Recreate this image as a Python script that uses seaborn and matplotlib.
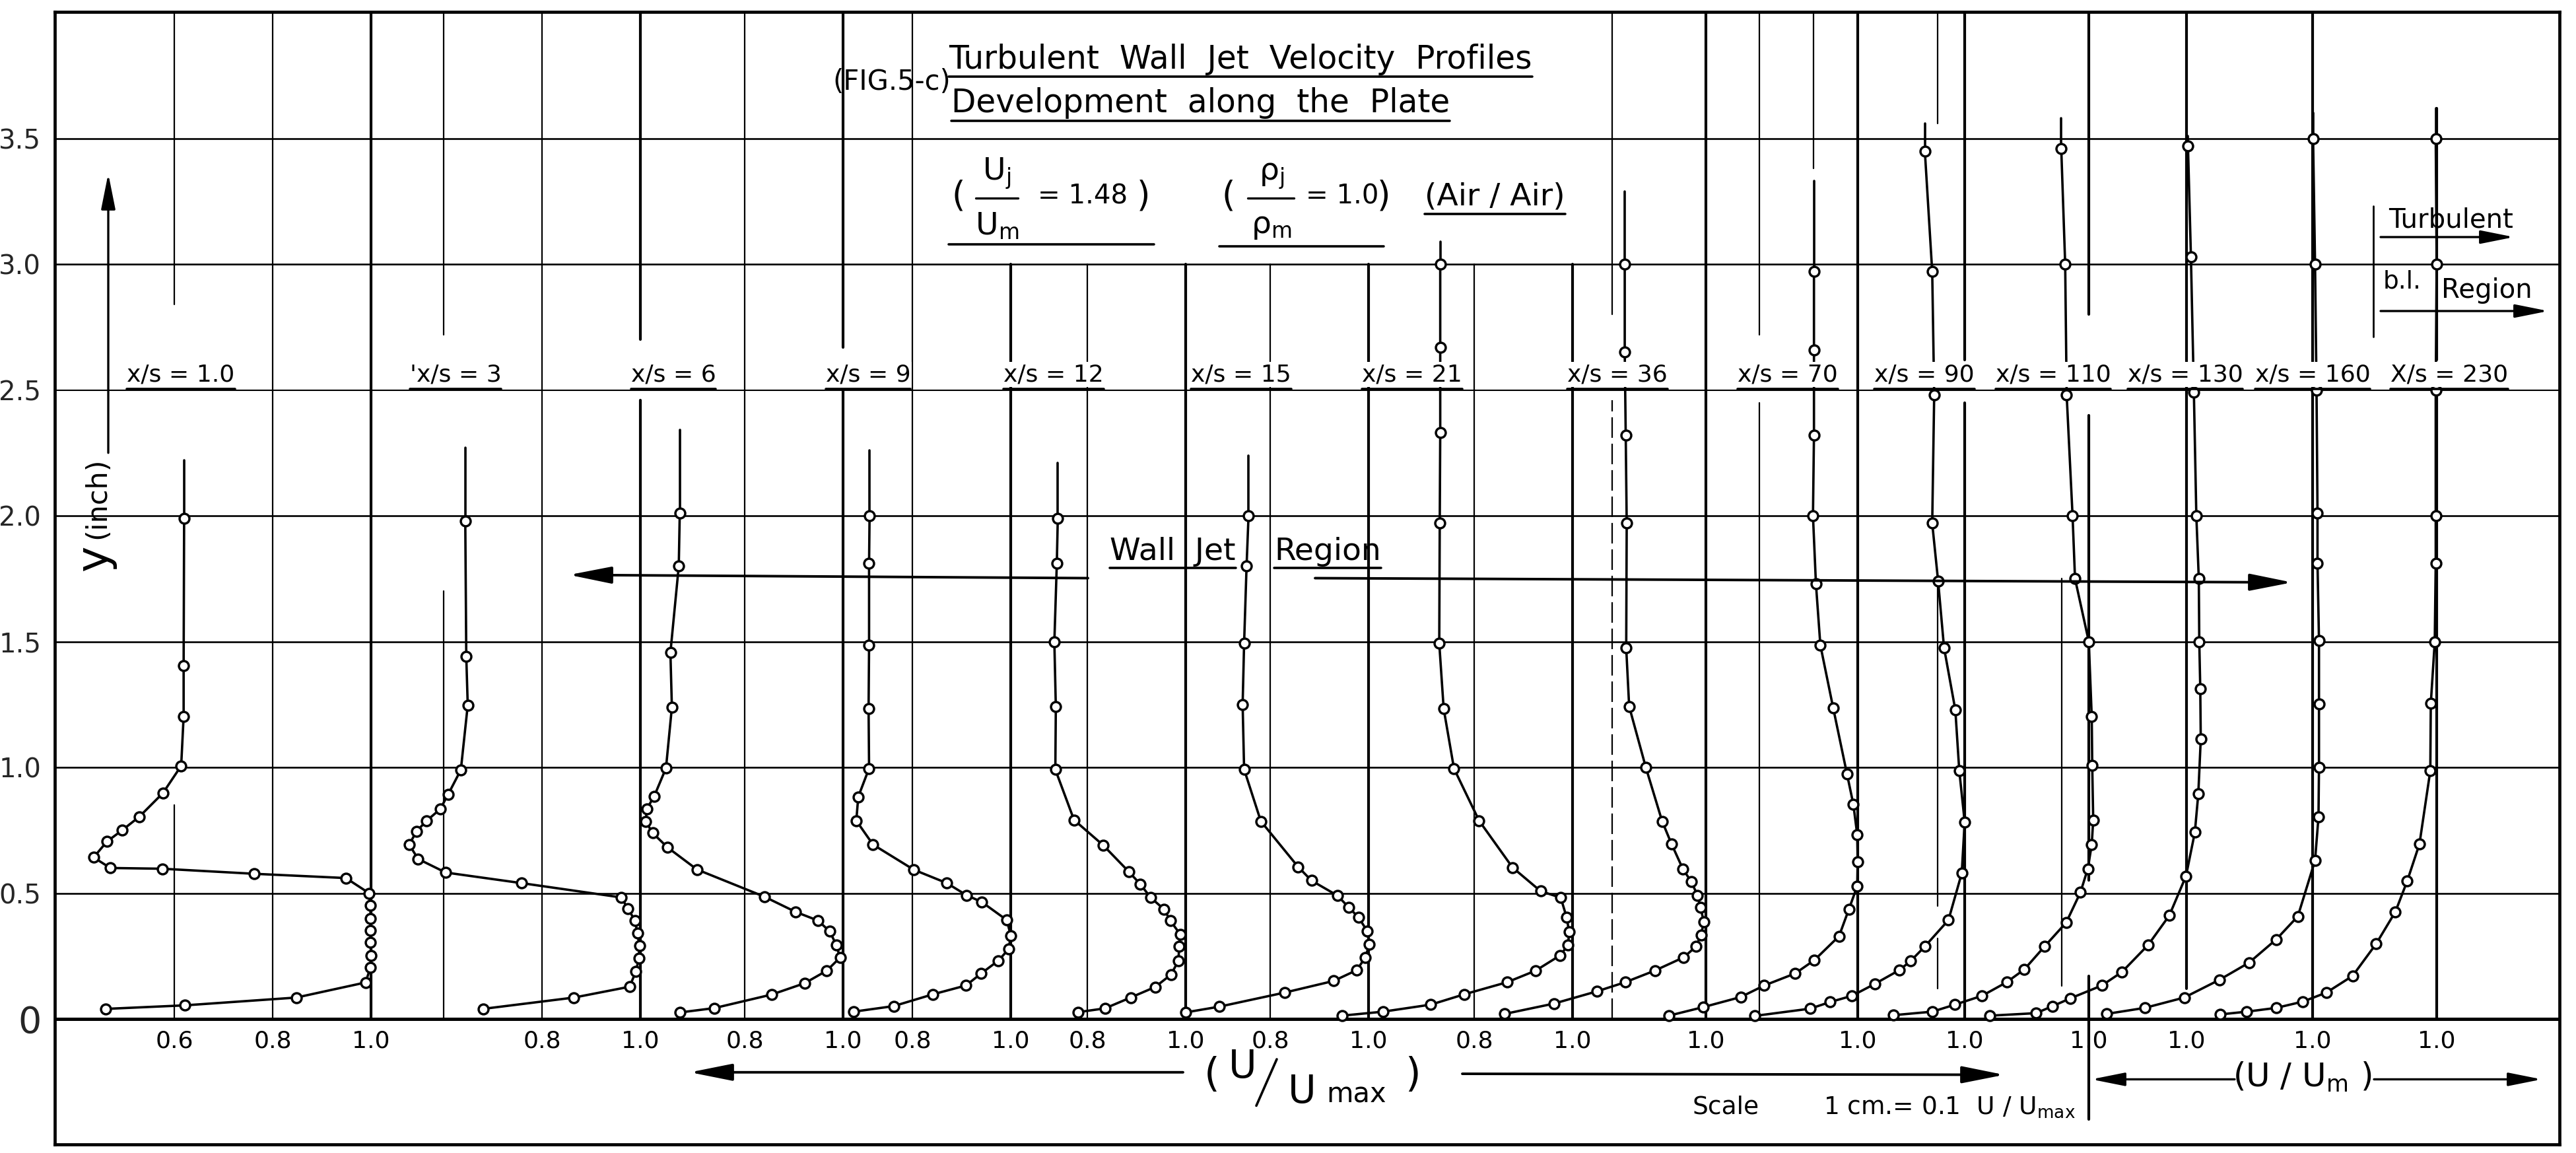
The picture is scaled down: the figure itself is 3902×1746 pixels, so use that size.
import numpy as np
import pandas as pd
import matplotlib
matplotlib.use("Agg")
import matplotlib.pyplot as plt
import seaborn as sns

sns.set_style("white")
plt.rcParams["font.family"] = ["DejaVu Sans"]
plt.rcParams["mathtext.default"] = "regular"

# ------------------------------------------------------------------
# DATA
# ------------------------------------------------------------------
profile_names = ["x/s = 1.0", "'x/s = 3", "x/s = 6", "x/s = 9", "x/s = 12",
                 "x/s = 15", "x/s = 21", "x/s = 36", "x/s = 70", "x/s = 90",
                 "x/s = 110", "x/s = 130", "x/s = 160", "X/s = 230"]

# y (inch) and U/Umax for each station
y_xs1 = [0.04, 0.054, 0.085, 0.145, 0.206, 0.253, 0.305, 0.352, 0.40, 0.452, 0.50,
         0.56, 0.577, 0.597, 0.60, 0.642, 0.705, 0.75, 0.804, 0.898, 1.006, 1.203, 1.405, 1.99]
u_xs1 = [0.461, 0.621, 0.848, 0.989, 0.999, 1.0, 0.999, 0.999, 0.999, 0.999, 0.996,
         0.949, 0.762, 0.576, 0.47, 0.436, 0.463, 0.494, 0.529, 0.577, 0.614, 0.619, 0.619, 0.62]

y_xs3 = [0.04, 0.085, 0.128, 0.189, 0.241, 0.291, 0.341, 0.391, 0.438, 0.483, 0.540,
         0.582, 0.636, 0.693, 0.746, 0.787, 0.834, 0.892, 0.990, 1.247, 1.442, 1.98]
u_xs3 = [0.680, 0.865, 0.978, 0.991, 0.997, 0.998, 0.994, 0.989, 0.975, 0.961, 0.758,
         0.604, 0.548, 0.530, 0.545, 0.565, 0.593, 0.609, 0.635, 0.649, 0.646, 0.644]

y_xs6 = [0.026, 0.043, 0.097, 0.142, 0.192, 0.244, 0.295, 0.348, 0.391, 0.426, 0.486,
         0.594, 0.682, 0.739, 0.784, 0.835, 0.885, 0.997, 1.239, 1.456, 1.80, 2.01]
u_xs6 = [0.669, 0.738, 0.855, 0.922, 0.967, 0.994, 0.986, 0.973, 0.949, 0.903, 0.840,
         0.703, 0.643, 0.613, 0.599, 0.601, 0.616, 0.640, 0.652, 0.649, 0.666, 0.668]

y_xs9 = [0.029, 0.051, 0.098, 0.133, 0.181, 0.232, 0.278, 0.332, 0.393, 0.465, 0.492,
         0.540, 0.593, 0.693, 0.788, 0.883, 0.996, 1.233, 1.486, 1.81, 2.0]
u_xs9 = [0.681, 0.762, 0.842, 0.909, 0.940, 0.975, 0.996, 1.0, 0.992, 0.941, 0.910,
         0.870, 0.803, 0.720, 0.686, 0.690, 0.712, 0.711, 0.712, 0.712, 0.713]

y_xs12 = [0.027, 0.042, 0.085, 0.127, 0.176, 0.230, 0.288, 0.336, 0.390, 0.436, 0.482,
          0.535, 0.584, 0.691, 0.791, 0.991, 1.241, 1.498, 1.81, 1.99]
u_xs12 = [0.781, 0.836, 0.888, 0.938, 0.970, 0.985, 0.987, 0.989, 0.969, 0.956, 0.929,
          0.908, 0.885, 0.832, 0.773, 0.735, 0.736, 0.733, 0.738, 0.740]

y_xs15 = [0.026, 0.049, 0.105, 0.151, 0.194, 0.243, 0.297, 0.350, 0.403, 0.443, 0.490,
          0.550, 0.604, 0.786, 0.992, 1.250, 1.493, 1.80, 2.0]
u_xs15 = [0.628, 0.697, 0.830, 0.929, 0.976, 0.993, 1.002, 0.997, 0.980, 0.960, 0.937,
          0.884, 0.857, 0.781, 0.747, 0.744, 0.747, 0.752, 0.756]

y_xs21 = [0.013, 0.029, 0.057, 0.098, 0.146, 0.192, 0.253, 0.294, 0.347, 0.404, 0.482,
          0.508, 0.602, 0.788, 0.995, 1.233, 1.493, 1.97, 2.33, 2.67, 3.0]
u_xs21 = [0.531, 0.615, 0.712, 0.780, 0.867, 0.925, 0.975, 0.991, 0.993, 0.988, 0.976,
          0.935, 0.878, 0.810, 0.759, 0.738, 0.729, 0.730, 0.731, 0.731, 0.731]

y_xs36 = [0.02, 0.061, 0.11, 0.146, 0.192, 0.245, 0.288, 0.334, 0.385, 0.443, 0.492,
          0.546, 0.597, 0.696, 0.786, 0.999, 1.242, 1.474, 1.97, 2.32, 2.65, 3.0]
u_xs36 = [0.591, 0.691, 0.779, 0.836, 0.896, 0.955, 0.980, 0.990, 0.996, 0.989, 0.983,
          0.970, 0.953, 0.930, 0.911, 0.878, 0.844, 0.838, 0.839, 0.837, 0.835, 0.835]

y_xs70 = [0.013, 0.047, 0.087, 0.133, 0.181, 0.234, 0.329, 0.436, 0.528, 0.625, 0.732,
          0.854, 0.975, 1.237, 1.486, 1.73, 2.0, 2.32, 2.66, 2.97]
u_xs70 = [0.616, 0.686, 0.762, 0.810, 0.873, 0.912, 0.962, 0.982, 0.999, 1.0, 0.999,
          0.991, 0.978, 0.950, 0.924, 0.915, 0.909, 0.911, 0.911, 0.911]

y_xs90 = [0.012, 0.041, 0.067, 0.092, 0.139, 0.194, 0.230, 0.288, 0.393, 0.579, 0.783,
          0.987, 1.228, 1.476, 1.74, 1.97, 2.48, 2.97, 3.45]
u_xs90 = [0.573, 0.686, 0.726, 0.771, 0.817, 0.867, 0.890, 0.919, 0.967, 0.994, 1.0,
          0.989, 0.981, 0.958, 0.946, 0.934, 0.938, 0.934, 0.919]

y_xs110 = [0.015, 0.029, 0.057, 0.092, 0.146, 0.197, 0.288, 0.383, 0.503, 0.597, 0.693,
           0.791, 1.007, 1.201, 1.50, 1.75, 2.0, 2.48, 3.0, 3.46]
u_xs110 = [0.603, 0.682, 0.728, 0.783, 0.833, 0.869, 0.910, 0.954, 0.983, 0.998, 1.006,
           1.009, 1.007, 1.006, 1.0, 0.972, 0.967, 0.955, 0.952, 0.944]

y_xs130 = [0.013, 0.023, 0.051, 0.082, 0.133, 0.187, 0.294, 0.411, 0.568, 0.742, 0.895,
           1.112, 1.313, 1.498, 1.75, 2.0, 2.49, 3.03, 3.47]
u_xs130 = [0.600, 0.694, 0.728, 0.764, 0.828, 0.869, 0.922, 0.965, 0.999, 1.017, 1.024,
           1.029, 1.028, 1.026, 1.025, 1.02, 1.015, 1.009, 1.003]

y_xs160 = [0.02, 0.044, 0.085, 0.156, 0.224, 0.316, 0.408, 0.630, 0.803, 0.999, 1.252,
           1.505, 1.81, 2.01, 2.5, 3.0, 3.50]
u_xs160 = [0.581, 0.659, 0.739, 0.811, 0.871, 0.926, 0.970, 1.005, 1.012, 1.013, 1.013,
           1.013, 1.01, 1.01, 1.008, 1.005, 1.001]

y_xs230 = [0.018, 0.029, 0.044, 0.069, 0.105, 0.171, 0.299, 0.426, 0.548, 0.696, 0.987,
           1.254, 1.498, 1.81, 2.0, 2.5, 3.0, 3.50]
u_xs230 = [0.560, 0.614, 0.674, 0.728, 0.776, 0.829, 0.877, 0.916, 0.940, 0.965, 0.987,
           0.988, 0.996, 0.998, 0.998, 0.998, 1.0, 0.998]

profiles_y = [y_xs1, y_xs3, y_xs6, y_xs9, y_xs12, y_xs15, y_xs21, y_xs36, y_xs70,
              y_xs90, y_xs110, y_xs130, y_xs160, y_xs230]
profiles_u = [u_xs1, u_xs3, u_xs6, u_xs9, u_xs12, u_xs15, u_xs21, u_xs36, u_xs70,
              u_xs90, u_xs110, u_xs130, u_xs160, u_xs230]

# height (inch) to which each drawn curve continues above its last point
line_top = [2.22, 2.27, 2.34, 2.26, 2.21, 2.24, 3.09, 3.29, 3.33, 3.56, 3.58, 3.51, 3.60, 3.62]

# U-scale tick labels written under each profile
scale_ticks = [[0.6, 0.8, 1.0], [0.8, 1.0], [0.8, 1.0], [0.8, 1.0], [0.8, 1.0],
               [0.8, 1.0], [0.8, 1.0], [1.0], [1.0], [1.0], [1.0], [1.0], [1.0], [1.0]]

y_ticks = [0, 0.5, 1.0, 1.5, 2.0, 2.5, 3.0, 3.5]
y_tick_labels = ["0", "0.5", "1.0", "1.5", "2.0", "2.5", "3.0", "3.5"]

# ------------------------------------------------------------------
# LAYOUT
# ------------------------------------------------------------------
W, H = 3902, 1746
L, R, T, B = 83, 3877, 18, 1733
PXU = 745.0            # pixels per unit of U/Umax (1 cm = 0.1 U/Umax)
Y0, PXI = 1543.0, 381.0


def fx(px):
    return (px - L) / PXU


def fy(py):
    return (Y0 - py) / PXI


base = [fx(p) for p in [562, 970, 1277, 1531, 1796, 2073, 2382, 2584, 2814,
                        2976, 3164, 3312, 3503, 3691]]

rows, ext = [], []
for i, (ys, us) in enumerate(zip(profiles_y, profiles_u)):
    for yv, uv in zip(ys, us):
        rows.append(dict(profile=i, y=yv, X=base[i] + uv - 1.0))
    ext.append(dict(profile=i, y=ys[-1], X=base[i] + us[-1] - 1.0))
    ext.append(dict(profile=i, y=line_top[i], X=base[i] + us[-1] - 1.0))
df = pd.DataFrame(rows)
df_ext = pd.DataFrame(ext)

fig = plt.figure(figsize=(W / 100, H / 100), dpi=100)
ax = fig.add_axes([L / W, 1 - B / H, (R - L) / W, (B - T) / H])
ax.set_xlim(0, fx(R))
ax.set_ylim(fy(B), fy(T))

K = "black"
# horizontal grid
for yv in y_ticks[1:]:
    ax.axhline(yv, color=K, lw=1.9 if yv != 2.5 else 1.5, zorder=1)
ax.axhline(0, color=K, lw=3.6, zorder=2)

# vertical grid segments: (profile, U level, y0, y1, style)
vseg = [
    (0, 0.6, 2.84, 4.1, "thin"), (0, 0.6, 0.0, 0.85, "thin"),
    (0, 0.8, 0, 4.1, "thin"), (0, 1.0, 0, 4.1, "thick"),
    (1, 0.6, 2.72, 4.1, "thin"), (1, 0.6, 0, 1.7, "thin"),
    (1, 0.8, 0, 4.1, "thin"), (1, 1.0, 2.70, 4.1, "thick"), (1, 1.0, 0, 2.46, "thick"),
    (2, 0.8, 0, 4.1, "thin"), (2, 1.0, 2.67, 4.1, "thick"), (2, 1.0, 0, 2.5, "thick"),
    (3, 0.8, 0, 4.1, "thin"), (3, 1.0, 0, 3.0, "thick"),
    (4, 0.8, 0, 3.0, "thin"), (4, 1.0, 0, 3.0, "thick"),
    (5, 0.8, 0, 3.0, "thin"), (5, 1.0, 0, 3.0, "thick"),
    (6, 0.8, 0, 3.0, "thin"), (6, 1.0, 0, 3.0, "thick"),
    (7, 0.81, 2.8, 4.1, "thin"), (7, 0.81, 0, 2.46, "dash"), (7, 1.0, 0, 4.1, "thick"),
    (8, 0.8, 2.72, 4.1, "thin"), (8, 0.8, 0, 2.45, "thin"), (8, 0.91, 3.38, 4.1, "thin"),
    (8, 1.0, 0, 4.1, "thick"),
    (9, 0.945, 3.56, 4.1, "thin"), (9, 0.945, 0.45, 1.75, "thin"), (9, 0.945, 0.12, 0.32, "thin"),
    (9, 1.0, 2.62, 4.1, "thick"), (9, 1.0, 0, 2.45, "thick"),
    (10, 0.945, 0.13, 1.75, "thin"),
    (10, 1.0, 2.8, 4.1, "thick"), (10, 1.0, 0.55, 2.4, "thick"), (10, 1.0, -0.40, 0.17, "thick"),
    (11, 1.0, 0.12, 4.1, "thick"),
    (12, 1.0, 0, 4.1, "thick"),
    (13, 1.0, 2.62, 3.62, "thick"), (13, 1.0, 0, 2.48, "thick"),
]
styles = {"thin": dict(lw=1.6, ls="-"), "thick": dict(lw=3.0, ls="-"),
          "dash": dict(lw=1.6, ls=(0, (14, 4)))}
for p, lev, y0, y1, st in vseg:
    xv = base[p] + lev - 1.0
    ax.plot([xv, xv], [y0, min(y1, fy(T))], color=K, zorder=1, **styles[st])
# "Turbulent b.l. Region" separator
ax.plot([fx(3595), fx(3595)], [2.71, 3.23], color=K, lw=2.0, zorder=1)

# profiles
sns.lineplot(data=df, x="X", y="y", units="profile", estimator=None, sort=False,
             color=K, lw=2.6, ax=ax, legend=False, zorder=3)
sns.lineplot(data=df_ext, x="X", y="y", units="profile", estimator=None, sort=False,
             color=K, lw=2.6, ax=ax, legend=False, zorder=3)
sns.scatterplot(data=df, x="X", y="y", marker="o", s=115, color="white",
                edgecolor=K, linewidth=2.5, ax=ax, legend=False, zorder=4)

ax.set_xlabel("")
ax.set_ylabel("")
ax.set_xticks([])
ax.set_yticks(y_ticks)
ax.set_yticklabels(y_tick_labels)
ax.tick_params(axis="y", direction="out", length=14, width=2.2, pad=1, labelsize=29)
ax.get_yticklabels()[0].set_fontsize(40)
for sp in ax.spines.values():
    sp.set_linewidth(3.4)
    sp.set_color(K)

underlines = []


def utext(x, y, s, fs, uy, ha="left", lw=2.6, **kw):
    t = ax.text(x, y, s, fontsize=fs, ha=ha, va="baseline", color=K, **kw)
    underlines.append((t, uy, lw))
    return t


def arrow(x0, y0, x1, y1, lw=2.8, ms=36):
    ax.annotate("", xy=(x1, y1), xytext=(x0, y0),
                arrowprops=dict(arrowstyle="-|>,head_length=1.1,head_width=0.22",
                                lw=lw, color=K, mutation_scale=ms,
                                shrinkA=0, shrinkB=0), zorder=5)


# station labels
label_px = [274, 690, 1020, 1315, 1596, 1880, 2139, 2450, 2708, 2915, 3110, 3310, 3503, 3710]
for name, px in zip(profile_names, label_px):
    utext(fx(px), 2.535, name, 26, 2.505, ha="center", zorder=6,
          bbox=dict(facecolor="white", edgecolor="none", pad=1.5))

# scale tick labels under the axis line
for i, levs in enumerate(scale_ticks):
    for lev in levs:
        ax.text(base[i] + lev - 1.0, -0.087, f"{lev:.1f}", fontsize=26,
                ha="center", va="center", color=K)

# title block
ax.text(fx(1440), fy(124), "(FIG.5-c)", fontsize=30, ha="right", va="center", color=K)
utext(fx(1437), fy(104), "Turbulent  Wall  Jet  Velocity  Profiles", 35, fy(116))
utext(fx(1441), fy(170), "Development  along  the  Plate", 35, fy(183))

# (Uj/Um = 1.48)
ax.text(fx(1441), 3.27, "(", fontsize=38, ha="left", va="center", color=K)
ax.text(fx(1510), 3.36, "$U_j$", fontsize=34, ha="center", va="center", color=K)
ax.plot([fx(1478), fx(1542)], [3.262, 3.262], color=K, lw=2.4)
ax.text(fx(1510), 3.15, "$U_m$", fontsize=34, ha="center", va="center", color=K)
ax.text(fx(1572), 3.27, "= 1.48", fontsize=29, ha="left", va="center", color=K)
ax.text(fx(1722), 3.27, ")", fontsize=38, ha="left", va="center", color=K)
ax.plot([fx(1437), fx(1748)], [3.08, 3.08], color=K, lw=2.6)

# (rho_j/rho_m = 1.0)
ax.text(fx(1850), 3.27, "(", fontsize=38, ha="left", va="center", color=K)
ax.text(fx(1926), 3.35, r"$\rho_j$", fontsize=34, ha="center", va="center", color=K)
ax.plot([fx(1890), fx(1960)], [3.262, 3.262], color=K, lw=2.4)
ax.text(fx(1926), 3.15, r"$\rho_m$", fontsize=34, ha="center", va="center", color=K)
ax.text(fx(1978), 3.27, "= 1.0", fontsize=29, ha="left", va="center", color=K)
ax.text(fx(2086), 3.27, ")", fontsize=38, ha="left", va="center", color=K)
ax.plot([fx(1847), fx(2096)], [3.07, 3.07], color=K, lw=2.6)

utext(fx(2158), 3.235, "(Air / Air)", 34, 3.20)

# Wall Jet Region
utext(fx(1681), fy(848), "Wall  Jet", 34, fy(860))
utext(fx(1930), fy(848), "Region", 34, fy(860))
arrow(fx(1648), 1.752, fx(862), 1.765)
arrow(fx(1992), 1.752, fx(3472), 1.735)

# Turbulent b.l. Region
ax.text(fx(3618), fy(333), "Turbulent", fontsize=29, ha="left", va="center", color=K)
arrow(fx(3606), fy(359), fx(3808), fy(359), lw=2.4, ms=28)
ax.text(fx(3610), fy(426), "b.l.", fontsize=27, ha="left", va="center", color=K)
ax.text(fx(3698), fy(440), "Region", fontsize=29, ha="left", va="center", color=K)
arrow(fx(3606), fy(471), fx(3860), fy(471), lw=2.4, ms=28)

# y axis title and arrow
ax.text(fx(147), 2.07, "(inch)", fontsize=31, rotation=90, ha="center", va="center", color=K)
ax.text(fx(143), 1.83, "y", fontsize=48, rotation=90, ha="center", va="center", color=K)
arrow(fx(164), 2.25, fx(164), 3.36, lw=2.4, ms=30)

# bottom captions
ax.text(fx(1836), -0.225, "(", fontsize=44, ha="center", va="center", color=K)
ax.text(fx(1882), -0.19, "U", fontsize=42, ha="center", va="center", color=K)
ax.plot([fx(1934), fx(1903)], [-0.16, -0.345], color=K, lw=2.6)
ax.text(fx(1972), -0.29, "U", fontsize=42, ha="center", va="center", color=K)
ax.text(fx(2055), -0.30, "max", fontsize=30, ha="center", va="center", color=K)
ax.text(fx(2140), -0.225, ")", fontsize=44, ha="center", va="center", color=K)
arrow(fx(1792), -0.212, fx(1045), -0.212)
arrow(fx(2215), -0.218, fx(3036), -0.222)

ax.text(fx(2564), -0.35, "Scale", fontsize=27, ha="left", va="center", color=K)
ax.text(fx(2762), -0.35, "1 cm.= 0.1  U / U$_{max}$", fontsize=27, ha="left", va="center", color=K)

ax.text(fx(3487), -0.232, "(U / U$_m$ )", fontsize=36, ha="center", va="center", color=K)
arrow(fx(3385), -0.24, fx(3168), -0.24, lw=2.4, ms=28)
arrow(fx(3596), -0.24, fx(3850), -0.24, lw=2.4, ms=28)

# underlines
fig.canvas.draw()
rend = fig.canvas.get_renderer()
inv = ax.transData.inverted()
for t, uy, lw in underlines:
    bb = t.get_window_extent(rend)
    x0 = inv.transform((bb.x0, bb.y0))[0]
    x1 = inv.transform((bb.x1, bb.y0))[0]
    ax.plot([x0, x1], [uy, uy], color=K, lw=lw, zorder=7)

fig.savefig("out.png", dpi=100, facecolor="white")
